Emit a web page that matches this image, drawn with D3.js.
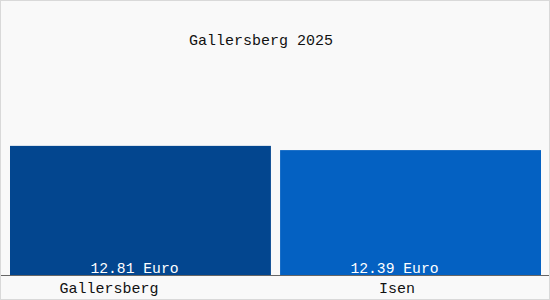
<!DOCTYPE html>
<html>
<head>
<meta charset="utf-8">
<script src="https://cdn.jsdelivr.net/npm/d3@7"></script>
<style>
html,body{margin:0;padding:0;background:#fff;}
svg{display:block;}
</style>
</head>
<body>
<script>
const title = "Gallersberg 2025";
const categories = ["Gallersberg", "Isen"];
const values = [12.81, 12.39];
const valueLabels = ["12.81 Euro", "12.39 Euro"];
const colors = ["#03468f", "#0461c2"];

const W = 550, H = 300;
const svg = d3.select("body").append("svg").attr("width", W).attr("height", H);

svg.append("rect").attr("x", 0.5).attr("y", 0.5).attr("width", W - 1).attr("height", H - 1)
  .attr("fill", "#f9f9f9").attr("stroke", "#d9d9d9");

const x = d3.scaleBand().domain(categories).range([10, 541]).paddingInner(0.034);
const y = d3.scaleLinear().domain([0, 25]).range([275, 23]);
const xLabel = d3.scalePoint().domain(categories).range([109, 397]);
const xValue = d3.scalePoint().domain(categories).range([134.5, 394.5]);

const font = "'Liberation Mono', 'DejaVu Sans Mono', monospace";

svg.append("text").attr("x", 261).attr("y", 45).attr("text-anchor", "middle")
  .attr("font-family", font).attr("font-size", "15px").attr("fill", "#111").text(title);

svg.selectAll("rect.bar").data(categories).enter().append("rect").attr("class", "bar")
  .attr("x", d => x(d))
  .attr("y", (d, i) => y(values[i]))
  .attr("width", x.bandwidth())
  .attr("height", (d, i) => y(0) - y(values[i]))
  .attr("fill", (d, i) => colors[i]);

svg.append("line").attr("x1", 1).attr("x2", W - 1).attr("y1", 275.5).attr("y2", 275.5)
  .attr("stroke", "#666").attr("stroke-width", 1);

svg.selectAll("text.val").data(categories).enter().append("text").attr("class", "val")
  .attr("x", d => xValue(d)).attr("y", 272.5).attr("text-anchor", "middle")
  .attr("font-family", font).attr("font-size", "14.7px").attr("fill", "#fff")
  .text((d, i) => valueLabels[i]);

svg.selectAll("text.cat").data(categories).enter().append("text").attr("class", "cat")
  .attr("x", d => xLabel(d)).attr("y", 292.5).attr("text-anchor", "middle")
  .attr("font-family", font).attr("font-size", "15px").attr("fill", "#111")
  .text(d => d);
</script>
</body>
</html>
